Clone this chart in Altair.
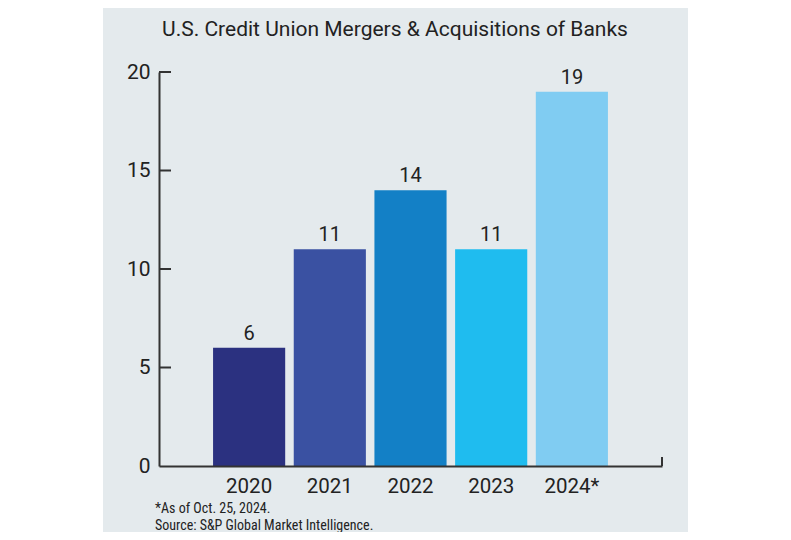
import altair as alt
import pandas as pd

years = ["2020", "2021", "2022", "2023", "2024*"]
counts = [6, 11, 14, 11, 19]
colors = ["#2b3180", "#3a51a2", "#1380c6", "#1fbcef", "#80ccf2"]
y_values = [0, 5, 10, 15, 20]
tick_marks = [5, 10, 15, 20]
title_text = "U.S. Credit Union Mergers & Acquisitions of Banks"
notes = ["*As of Oct. 25, 2024.", "Source: S&P Global Market Intelligence."]

W, H = 503, 394
FONT = "Roboto"
NOTE_FONT = "Roboto Condensed, Liberation Sans Narrow, Roboto"
BG = "#e4eaed"
INK = "#222222"
AX = "#333333"

df = pd.DataFrame({"year": years, "count": counts})
yscale = alt.Scale(domain=[0, 20], nice=False)

x_enc = alt.X(
    "year:N", sort=years,
    scale=alt.Scale(paddingInner=0.106, paddingOuter=0.67),
    axis=alt.Axis(title=None, labelAngle=0, labelFontSize=20.5, labelColor=INK,
                  labelFont=FONT, labelPadding=10, ticks=False,
                  domainColor=AX, domainWidth=2, zindex=1),
)
y_enc = alt.Y(
    "count:Q", scale=yscale,
    axis=alt.Axis(title=None, values=y_values, ticks=False, grid=False,
                  labelFontSize=21, labelColor=INK, labelFont=FONT,
                  labelPadding=9, domainColor=AX, domainWidth=2, zindex=1),
)

panel = alt.Chart(pd.DataFrame({"p": [0]})).mark_rect(color=BG).encode(
    x=alt.value(-56), x2=alt.value(529), y=alt.value(-80), y2=alt.value(480)
)

bars = alt.Chart(df).mark_bar().encode(
    x=x_enc, y=y_enc,
    color=alt.Color("year:N", scale=alt.Scale(domain=years, range=colors), legend=None),
)

labels = alt.Chart(df).mark_text(
    baseline="bottom", dy=-4, fontSize=20, font=FONT, color=INK
).encode(x=alt.X("year:N", sort=years), y=alt.Y("count:Q"), text="count:Q")

ticks = alt.Chart(pd.DataFrame({"count": tick_marks})).mark_rule(
    color=AX, strokeWidth=2
).encode(y=alt.Y("count:Q"), x=alt.value(0), x2=alt.value(12))

end_tick = alt.Chart(pd.DataFrame({"p": [0]})).mark_rule(
    color=AX, strokeWidth=2
).encode(x=alt.value(W), y=alt.value(H - 9), y2=alt.value(H))

title = alt.Chart(pd.DataFrame({"t": [title_text]})).mark_text(
    align="center", baseline="alphabetic", fontSize=21, font=FONT, color=INK
).encode(x=alt.value(236), y=alt.value(-36), text="t:N")

note_layers = []
for i, line in enumerate(notes):
    note_layers.append(
        alt.Chart(pd.DataFrame({"t": [line]})).mark_text(
            align="left", baseline="alphabetic", fontSize=14, font=NOTE_FONT, color=INK
        ).encode(x=alt.value(-4), y=alt.value(441 + 17 * i), text="t:N")
    )

chart = alt.layer(panel, bars, labels, ticks, end_tick, title, *note_layers).properties(
    width=W, height=H,
    autosize=alt.AutoSizeParams(type="none"),
    padding={"left": 151, "top": 64, "right": 121, "bottom": 66},
    background="white",
).configure_view(stroke=None)

chart.save("out.html", embed_options={"renderer": "svg", "actions": False})
